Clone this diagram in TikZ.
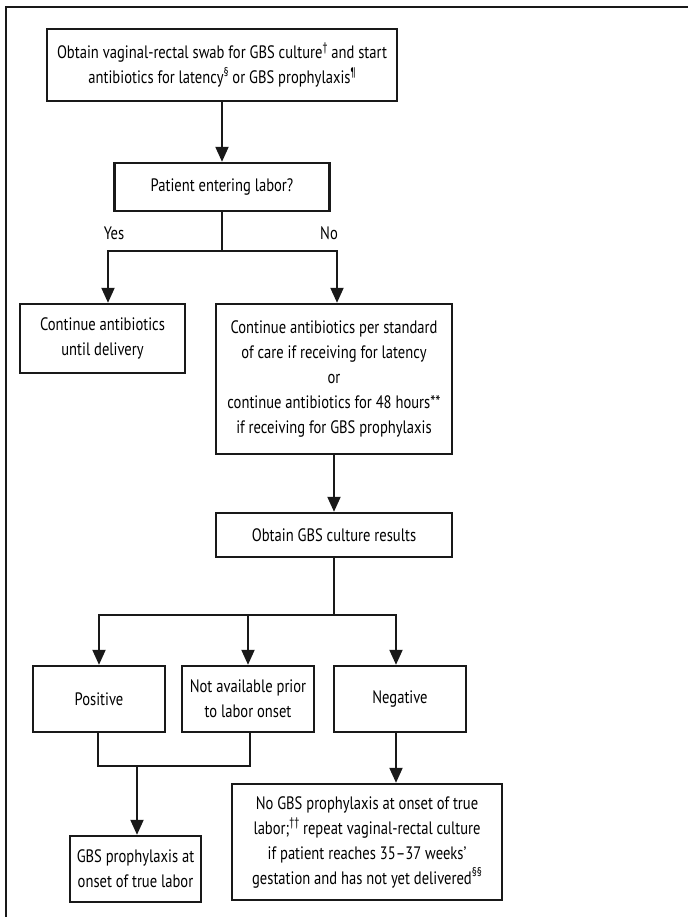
\documentclass[tikz,border=0pt]{standalone}
\usepackage{fontspec}
\setmainfont[FakeStretch=0.81]{PT Sans}
\usetikzlibrary{arrows.meta}
\newcommand\mysup[1]{\raisebox{0.4em}{\fontsize{12.5}{12.5}\selectfont #1}}
\begin{document}
\begin{tikzpicture}[x=1pt,y=-1pt,
  box/.style={draw=black!90,line width=2.4pt,align=center,inner sep=2pt,
    font=\fontsize{18}{25}\selectfont},
  conn/.style={line width=2pt,draw=black!90},
  arr/.style={conn,-{Triangle[length=15pt,width=13pt]}},
  lbl/.style={font=\fontsize{18}{20}\selectfont}]
\useasboundingbox (0,0) rectangle (688,917);
\draw[line width=2.4pt,black!90] (6,917) -- (6,7) -- (688,7);
\node[box,minimum width=350,minimum height=72] (top) at (222,65)
  {Obtain vaginal-rectal swab for GBS culture\mysup{†} and start\\
   antibiotics for latency\mysup{§} or GBS prophylaxis\mysup{¶}};
\node[box,minimum width=215,minimum height=48] (lab) at (222,187) {Patient entering labor?};
\node[box,minimum width=165,minimum height=69] (cont) at (102.5,338.5)
  {Continue antibiotics\\until delivery};
\node[box,minimum width=236,minimum height=150] (std) at (334,379)
  {Continue antibiotics per standard\\of care if receiving for latency\\or\\
   continue antibiotics for 48 hours**\\if receiving for GBS prophylaxis};
\node[box,minimum width=236,minimum height=44] (obt) at (334,535) {Obtain GBS culture results};
\node[box,minimum width=132,minimum height=66] (pos) at (99,699) {Positive};
\node[box,minimum width=132,minimum height=66] (na) at (248,699) {Not available prior\\to labor onset};
\node[box,minimum width=132,minimum height=66] (neg) at (400,699) {Negative};
\node[box,minimum width=131,minimum height=66] (gbs) at (135.5,869)
  {GBS prophylaxis at\\onset of true labor};
\node[box,minimum width=270,minimum height=116] (nog) at (367,842)
  {No GBS prophylaxis at onset of true\\
   labor;\mysup{††} repeat vaginal-rectal culture\\
   if patient reaches 35–37 weeks’\\
   gestation and has not yet delivered\mysup{§§}};
% top to labor
\draw[arr] (top.south) -- (lab.north);
% labor split
\coordinate (j1) at (222,251);
\draw[conn] (lab.south) -- (j1);
\draw[arr] (j1) -| (cont.north -| 108,0);
\draw[arr] (j1) -| (std.north -| 337,0);
\node[lbl] (yes) at (114,233) {Yes};
\node[lbl] (no) at (329,233) {No};
% std to obtain
\draw[arr] (std.south) -- (obt.north);
% obtain split
\coordinate (j2) at (334,615);
\draw[conn] (obt.south) -- (j2);
\draw[arr] (j2) -| (pos.north);
\draw[arr] (j2) -| (na.north);
\draw[arr] (j2) -| (neg.north -| 396,0);
% merge
\coordinate (m1) at (98,766);
\coordinate (m2) at (250,766);
\coordinate (m3) at (137,766);
\draw[conn] (pos.south -| m1) -- (m1) -- (m2) -- (na.south -| m2);
\draw[arr] (m3) -- (gbs.north -| m3);
\draw[arr] (neg.south -| 396,0) -- (nog.north -| 396,0);
\end{tikzpicture}
\end{document}
